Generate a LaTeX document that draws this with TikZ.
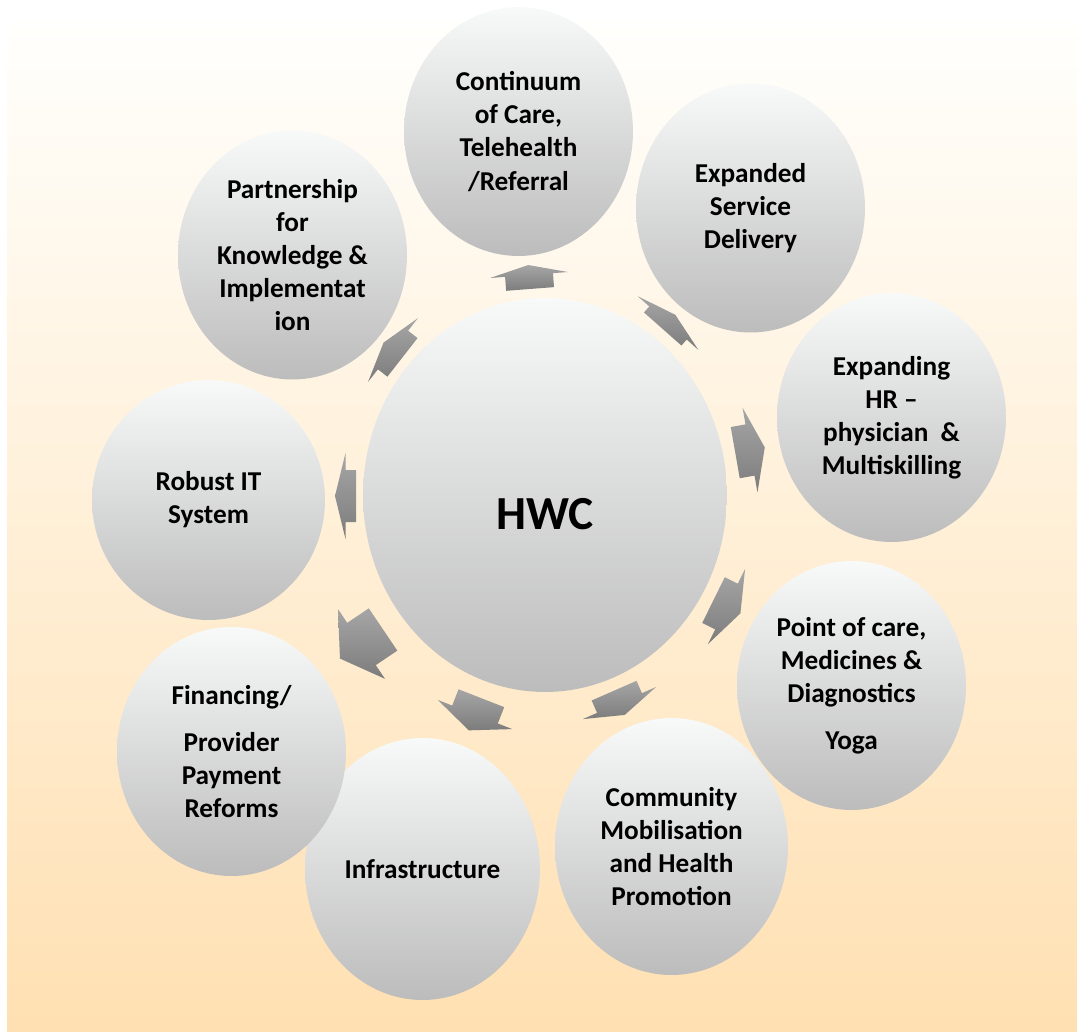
\documentclass[tikz,border=0pt]{standalone}
\usepackage{fontspec}
\setmainfont{Carlito}
\usetikzlibrary{shapes.geometric,calc}
\definecolor{bgtop}{RGB}{255,255,253}
\definecolor{bgbot}{RGB}{255,224,178}
\definecolor{bubbletop}{RGB}{248,249,249}
\definecolor{bubblebot}{RGB}{188,188,188}
\definecolor{arrowtop}{RGB}{166,166,166}
\definecolor{arrowbot}{RGB}{124,124,124}
\tikzset{
  bubble/.style={ellipse, inner sep=0pt, top color=bubbletop, bottom color=bubblebot,
    minimum width=4.58cm, minimum height=4.98cm, align=center,
    font=\fontsize{15.5}{18.8}\selectfont\bfseries},
  flowarrow/.style={top color=arrowtop, bottom color=arrowbot}
}
\begin{document}
\begin{tikzpicture}[x=0.02cm,y=-0.02cm]
\useasboundingbox (0,0) rectangle (1077,1031);
\shade[top color=bgtop, bottom color=bgbot] (7,20) rectangle (1077,1031);
% centre and satellites
\node[bubble, minimum width=7.28cm, minimum height=7.88cm,
  font=\fontsize{27}{32}\selectfont\bfseries] (hwc) at (545,495)
  {\raisebox{-0.69cm}[0pt][0pt]{HWC}};
\node[bubble] (care) at (518.5,131.5) {Continuum\\of Care,\\Telehealth\\/Referral};
\node[bubble] (service) at (750.5,208) {Expanded\\Service\\Delivery};
\node[bubble] (hr) at (891.5,417.5) {Expanding\\HR --\\physician~~\&\\Multiskilling};
\node[bubble] (poc) at (851.5,685.5) {Point of care,\\Medicines \&\\Diagnostics\\[8pt]Yoga};
\node[bubble, minimum width=4.66cm, minimum height=5.14cm] (community) at (671.5,846.5)
  {Community\\Mobilisation\\and Health\\Promotion};
\node[bubble, minimum width=4.7cm, minimum height=5.24cm] (infra) at (422.5,869) {Infrastructure};
\node[bubble] (finance) at (231.5,751.5) {Financing/\\[8pt]Provider\\Payment\\Reforms};
\node[bubble, minimum width=4.66cm, minimum height=4.8cm] (itsys) at (208.5,500) {Robust IT\\System};
\node[bubble] (partner) at (292.5,255) {Partnership\\for\\Knowledge \&\\Implementat\\ion};
% block arrows: x/y/angle/tail/head/half head width/half shaft width
\foreach \cx/\cy/\a/\t/\h/\hw/\sw in {
  529/275/-94.4/14/10/39/24,
  668/323/-48.5/8/11/40.5/25,
  750/450/-10/15/15/43/26,
  726.5/606.5/26.3/14.5/15.5/42/25.5,
  619.5/703/66.3/13.5/13/40/24.5,
  475/714.5/111.4/17.5/17/40/24.5,
  361.5/644/146/26/26/42/25.5,
  345.5/496/180/10.5/10.5/43/26,
  393/350/218/12/12/40.5/24.5}
  \shade[flowarrow]
    ($(\cx,\cy)+(\a+180:\t)+(\a-90:\sw)$) --
    ($(\cx,\cy)+(\a-90:\sw)$) --
    ($(\cx,\cy)+(\a-90:\hw)$) --
    ($(\cx,\cy)+(\a:\h)$) --
    ($(\cx,\cy)+(\a+90:\hw)$) --
    ($(\cx,\cy)+(\a+90:\sw)$) --
    ($(\cx,\cy)+(\a+180:\t)+(\a+90:\sw)$) -- cycle;
\end{tikzpicture}
\end{document}
